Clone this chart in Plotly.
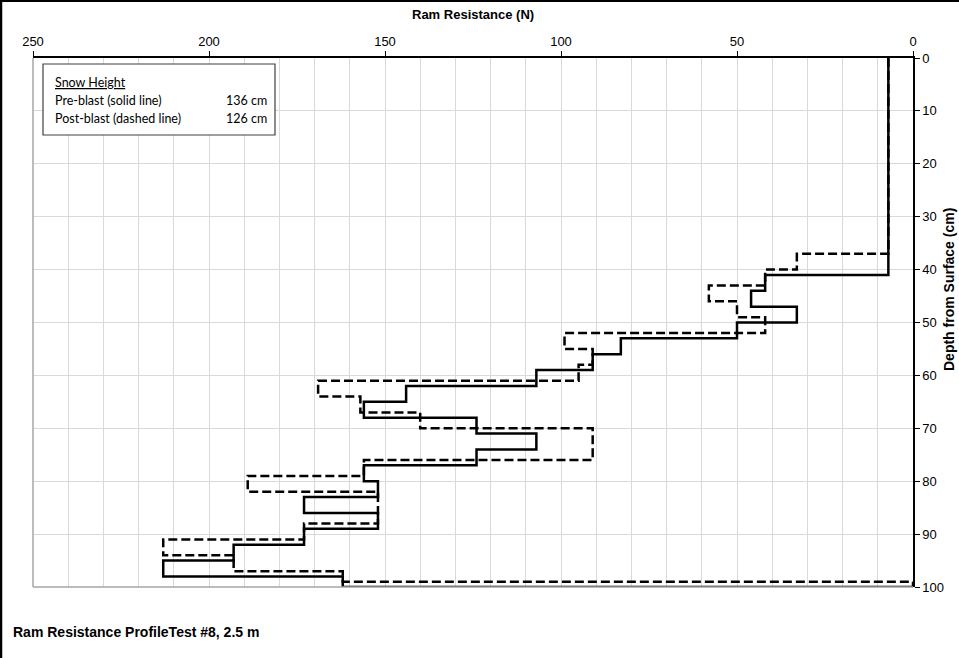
import plotly.graph_objects as go

# ---------------- data ----------------
# Pre-blast (solid): top depth of each layer (cm) and ram resistance (N)
pre_top = [0, 41, 44, 47, 50, 53, 56, 59, 62, 65, 68, 71, 74, 77, 80, 83, 86, 89, 92, 95, 98]
pre_res = [7, 42, 46, 33, 50, 83, 91, 107, 144, 156, 124, 107, 124, 156, 152, 173, 152, 173, 193, 213, 162]
pre_end_depth = 100

# Post-blast (dashed)
post_top = [0, 37, 40, 43, 46, 49, 52, 55, 58, 61, 64, 67, 70, 76, 79, 82, 88, 91, 94, 97, 99]
post_res = [7, 33, 42, 58, 50, 42, 99, 91, 95, 169, 157, 140, 91, 156, 189, 152, 173, 213, 193, 162, 0]
post_end_depth = 100

x_ticks = [250, 200, 150, 100, 50, 0]
y_ticks = [0, 10, 20, 30, 40, 50, 60, 70, 80, 90, 100]

legend_title = "Snow Height"
legend_rows = [("Pre-blast (solid line)", "136 cm"), ("Post-blast (dashed line)", "126 cm")]
chart_title = "Ram Resistance ProfileTest #8, 2.5 m"


def step_profile(tops, res, end_depth):
    xs, ys = [], []
    bottoms = tops[1:] + [end_depth]
    for r, t, b in zip(res, tops, bottoms):
        xs += [r, r]
        ys += [t, b]
    return xs, ys


pre_x, pre_y = step_profile(pre_top, pre_res, pre_end_depth)
pre_x.append(0)
pre_y.append(pre_end_depth)
post_x, post_y = step_profile(post_top, post_res, post_end_depth)

# ---------------- layout geometry ----------------
W, H = 959, 658
L, R, T, B = 33, 46, 58, 71
PW, PH = W - L - R, H - T - B


def px(x):
    return (x - L) / PW


def py(y):
    return 1 - (y - T) / PH


fig = go.Figure()
fig.add_trace(go.Scatter(x=post_x, y=post_y, mode="lines",
                         line=dict(color="black", width=2.5, dash="9px,4px"),
                         hoverinfo="skip", showlegend=False))
fig.add_trace(go.Scatter(x=pre_x, y=pre_y, mode="lines",
                         line=dict(color="black", width=2.5),
                         hoverinfo="skip", showlegend=False))

tick_font = dict(family="Liberation Sans, Arial", size=13, color="black")

fig.update_layout(
    width=W, height=H,
    margin=dict(l=L, r=R, t=T, b=B),
    paper_bgcolor="white", plot_bgcolor="white",
    showlegend=False,
    xaxis=dict(range=[250, 0], side="top", tickvals=x_ticks, ticks="outside",
               ticklen=5, tickcolor="black", tickfont=tick_font,
               showgrid=True, gridcolor="#d9d9d9", gridwidth=1,
               minor=dict(dtick=10, tick0=0, showgrid=True, gridcolor="#d9d9d9", gridwidth=1, ticks=""),
               showline=True, linecolor="black", linewidth=1.5, zeroline=False),
    yaxis=dict(range=[100, 0], side="right", tickvals=y_ticks, ticks="outside",
               ticklen=5, tickcolor="black", tickfont=tick_font,
               showgrid=True, gridcolor="#d9d9d9", gridwidth=1,
               showline=True, linecolor="black", linewidth=1.5, zeroline=False),
)

shapes = [
    # gray left and bottom borders of plot area
    dict(type="line", xref="paper", yref="paper", x0=0, x1=0, y0=0, y1=1,
         line=dict(color="#a6a6a6", width=1.5)),
    dict(type="line", xref="paper", yref="paper", x0=0, x1=1, y0=0, y1=0,
         line=dict(color="#a6a6a6", width=1.5)),
    # legend box
    dict(type="rect", xref="paper", yref="paper", x0=px(43), x1=px(275), y0=py(135), y1=py(64),
         line=dict(color="#404040", width=1.2), fillcolor="white", layer="above"),
    # outer frame (left and top)
    dict(type="line", xref="paper", yref="paper", x0=px(1), x1=px(1), y0=py(0), y1=py(H),
         line=dict(color="black", width=2.5)),
    dict(type="line", xref="paper", yref="paper", x0=px(0), x1=px(W), y0=py(1), y1=py(1),
         line=dict(color="black", width=2)),
]
fig.update_layout(shapes=shapes)

leg_font = dict(family="Lato, Open Sans, sans-serif", size=12.5, color="black")
ann = [
    dict(text="<b>Ram Resistance (N)</b>", xref="paper", yref="paper", x=0.5, y=py(15),
         showarrow=False, xanchor="center", yanchor="middle",
         font=dict(family="Liberation Sans, Arial", size=13, color="black")),
    dict(text="<b>Depth from Surface (cm)</b>", xref="paper", yref="paper", x=px(949), y=py(290),
         showarrow=False, xanchor="center", yanchor="middle", textangle=-90,
         font=dict(family="Liberation Sans, Arial", size=14, color="black")),
    dict(text="<b>" + chart_title + "</b>", xref="paper", yref="paper", x=px(11), y=py(632),
         showarrow=False, xanchor="left", yanchor="middle",
         font=dict(family="Liberation Sans, Arial", size=14, color="black")),
    dict(text="<u>" + legend_title + "</u>", xref="paper", yref="paper", x=px(53), y=py(82),
         showarrow=False, xanchor="left", yanchor="middle", font=leg_font),
]
for i, (lab, val) in enumerate(legend_rows):
    yy = 100 + 18.3 * i
    ann.append(dict(text=lab, xref="paper", yref="paper", x=px(53), y=py(yy),
                    showarrow=False, xanchor="left", yanchor="middle", font=leg_font))
    ann.append(dict(text=val, xref="paper", yref="paper", x=px(224), y=py(yy),
                    showarrow=False, xanchor="left", yanchor="middle", font=leg_font))
fig.update_layout(annotations=ann)

fig.write_html("out.html")
